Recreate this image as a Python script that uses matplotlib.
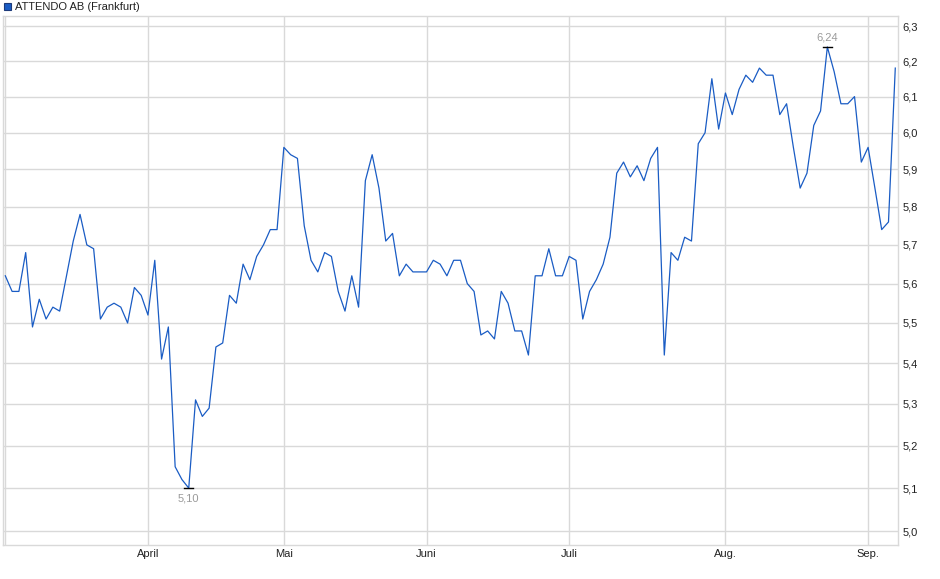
import matplotlib
matplotlib.use("Agg")
import matplotlib.pyplot as plt
from matplotlib.ticker import FixedLocator, NullLocator, NullFormatter
import numpy as np

plt.rcParams['font.family'] = ['Liberation Sans', 'DejaVu Sans']

# daily closing prices (EUR), trading days from early March to early September
prices = [5.62, 5.58, 5.58, 5.68, 5.49, 5.56, 5.51, 5.54, 5.53, 5.62,
          5.71, 5.78, 5.70, 5.69, 5.51, 5.54, 5.55, 5.54, 5.50, 5.59,
          5.57, 5.52, 5.66, 5.41, 5.49, 5.15, 5.12, 5.10, 5.31, 5.27,
          5.29, 5.44, 5.45, 5.57, 5.55, 5.65, 5.61, 5.67, 5.70, 5.74,
          5.74, 5.96, 5.94, 5.93, 5.75, 5.66, 5.63, 5.68, 5.67, 5.58,
          5.53, 5.62, 5.54, 5.87, 5.94, 5.85, 5.71, 5.73, 5.62, 5.65,
          5.63, 5.63, 5.63, 5.66, 5.65, 5.62, 5.66, 5.66, 5.60, 5.58,
          5.47, 5.48, 5.46, 5.58, 5.55, 5.48, 5.48, 5.42, 5.62, 5.62,
          5.69, 5.62, 5.62, 5.67, 5.66, 5.51, 5.58, 5.61, 5.65, 5.72,
          5.89, 5.92, 5.88, 5.91, 5.87, 5.93, 5.96, 5.42, 5.68, 5.66,
          5.72, 5.71, 5.97, 6.00, 6.15, 6.01, 6.11, 6.05, 6.12, 6.16,
          6.14, 6.18, 6.16, 6.16, 6.05, 6.08, 5.96, 5.85, 5.89, 6.02,
          6.06, 6.24, 6.17, 6.08, 6.08, 6.10, 5.92, 5.96, 5.85, 5.74,
          5.76, 6.18]

# index of first trading day of each month
month_pos = [0, 21, 41, 62, 83, 106, 127]
month_labels = ['', 'April', 'Mai', 'Juni', 'Juli', 'Aug.', 'Sep.']
y_ticks = [5.0, 5.1, 5.2, 5.3, 5.4, 5.5, 5.6, 5.7, 5.8, 5.9, 6.0, 6.1, 6.2, 6.3]

x = np.arange(len(prices))
grid_col = '#d9d9d9'
line_col = '#1a5cc4'

fig = plt.figure(figsize=(9.4, 5.79), dpi=100)
ax = fig.add_axes([3 / 940, 1 - 545 / 579, 895 / 940, 529 / 579])

ax.plot(x, prices, color=line_col, lw=0.9, zorder=3)

ax.set_yscale('log')
ax.set_xlim(-0.34, 131.4)
ax.set_ylim(4.969, 6.329)

ax.yaxis.set_major_locator(FixedLocator(y_ticks))
ax.yaxis.set_minor_locator(NullLocator())
ax.yaxis.set_minor_formatter(NullFormatter())
ax.set_yticklabels([f'{v:.1f}'.replace('.', ',') for v in y_ticks])
ax.yaxis.tick_right()

ax.set_xticks(month_pos)
ax.set_xticklabels(month_labels)

ax.tick_params(axis='both', length=0, labelsize=8, colors='#222222')
ax.tick_params(axis='y', pad=3)
ax.tick_params(axis='x', pad=3)

ax.grid(True, color=grid_col, lw=1.0, zorder=0)
for s in ax.spines.values():
    s.set_color(grid_col)
    s.set_linewidth(1.0)

# min / max markers
i_min = int(np.argmin(prices))
i_max = int(np.argmax(prices))
for i, off in [(i_min, -7.7), (i_max, 6.5)]:
    ax.plot([i - 0.65, i + 0.65], [prices[i], prices[i]], color='black', lw=1.0, zorder=4)
    ax.annotate(f'{prices[i]:.2f}'.replace('.', ','), (i, prices[i]),
                xytext=(0, off), textcoords='offset points',
                ha='center', va='center', fontsize=8, color='#9a9a9a')

# legend
fig.patches.append(plt.Rectangle((4 / 940, 1 - 10 / 579), 7 / 940, 7 / 579,
                                 transform=fig.transFigure, facecolor=line_col,
                                 edgecolor='#1d3a7a', lw=0.8))
fig.text(15 / 940, 1 - 6.5 / 579, 'ATTENDO AB (Frankfurt)', fontsize=8,
         color='#222222', va='center', ha='left')

fig.savefig('out.png', dpi=100)
